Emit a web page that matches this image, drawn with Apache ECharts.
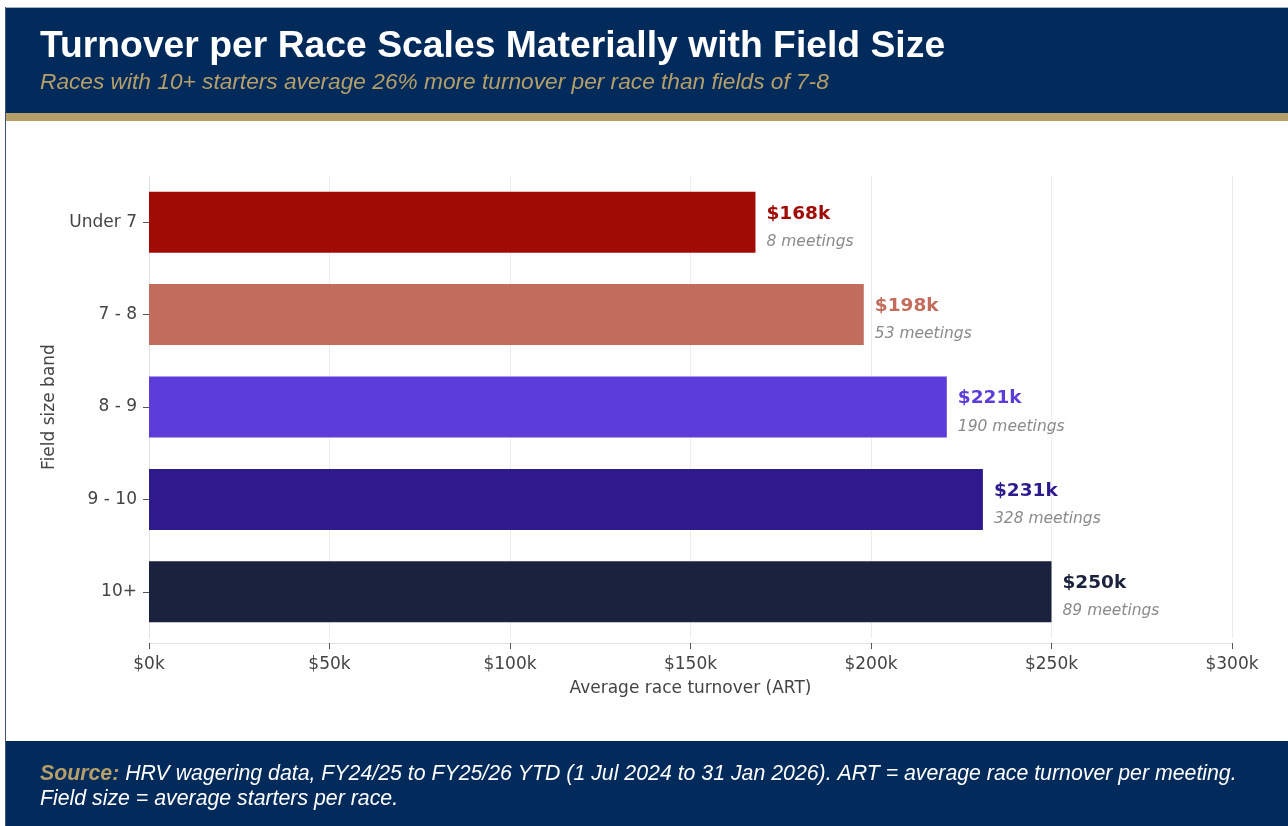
<!DOCTYPE html>
<html>
<head>
<meta charset="utf-8">
<script src="https://cdn.jsdelivr.net/npm/echarts@6/dist/echarts.min.js"></script>
<style>
  html, body { margin: 0; padding: 0; background: #ffffff; }
  #chart { width: 1288px; height: 826px; }
</style>
</head>
<body>
<div id="chart"></div>
<script>
// Field size bands, top to bottom
const bands = ['Under 7', '7 - 8', '8 - 9', '9 - 10', '10+'];
// Average race turnover per meeting, $k
const artValues = [168, 198, 221, 231, 250];
// Number of meetings in each band
const meetings = [8, 53, 190, 328, 89];
// Bar colours per band
const bandColors = ['#a10b05', '#c26c5d', '#5c3dd9', '#2e1a8c', '#1b223d'];
// Axis ticks ($k)
const xTicks = [0, 50, 100, 150, 200, 250, 300];

const NAVY = '#022a5b';
const GOLD = '#b59f69';
const FONT = "'DejaVu Sans', sans-serif";
const HEAD_FONT = "'Liberation Sans', Arial, sans-serif";

const chart = echarts.init(document.getElementById('chart'), null, { renderer: 'canvas' });

const seriesData = artValues.map((v, i) => ({
  value: v,
  itemStyle: { color: bandColors[i] },
  label: {
    rich: {
      v: { fontFamily: FONT, fontWeight: 'bold', fontSize: 18.5, color: bandColors[i], lineHeight: 29 },
      m: { fontFamily: FONT, fontStyle: 'italic', fontSize: 15.5, color: '#8a8a8a', lineHeight: 27 }
    }
  }
}));

chart.setOption({
  animation: false,
  backgroundColor: '#ffffff',
  grid: { left: 149, right: 56, top: 176, bottom: 188, containLabel: false },
  xAxis: {
    type: 'value',
    min: xTicks[0], max: xTicks[xTicks.length - 1], interval: xTicks[1] - xTicks[0],
    offset: 5,
    name: 'Average race turnover (ART)',
    nameLocation: 'middle',
    nameGap: 37,
    nameTextStyle: { fontFamily: FONT, fontSize: 17, color: '#444444' },
    axisLine: { show: true, lineStyle: { color: '#e2e2e2', width: 1 } },
    axisTick: { show: true, length: 6, lineStyle: { color: '#555555' } },
    axisLabel: {
      fontFamily: FONT, fontSize: 17, color: '#444444', margin: 13,
      formatter: v => '$' + v + 'k'
    },
    splitLine: { show: true, lineStyle: { color: '#ececec', width: 1 } }
  },
  yAxis: {
    type: 'category',
    data: bands,
    inverse: true,
    name: 'Field size band',
    nameLocation: 'middle',
    nameRotate: 90,
    nameGap: 81,
    nameTextStyle: { fontFamily: FONT, fontSize: 17, color: '#444444' },
    axisLine: { show: true, lineStyle: { color: '#e2e2e2', width: 1 } },
    axisTick: { show: true, length: 6, alignWithLabel: true, lineStyle: { color: '#555555' } },
    axisLabel: { fontFamily: FONT, fontSize: 17, color: '#444444', margin: 12 },
    splitLine: { show: false }
  },
  series: [{
    type: 'bar',
    data: seriesData,
    barWidth: 61,
    label: {
      show: true,
      position: 'right',
      distance: 11,
      align: 'left',
      offset: [0, 5],
      formatter: p => '{v|$' + artValues[p.dataIndex] + 'k}\n{m|' + meetings[p.dataIndex] + ' meetings}'
    }
  }],
  graphic: [
    // outer frame lines
    { type: 'rect', z: 0, silent: true, shape: { x: 5, y: 7, width: 1283, height: 1 }, style: { fill: '#a7b0bf' } },
    { type: 'rect', z: 0, silent: true, shape: { x: 5, y: 7, width: 1, height: 819 }, style: { fill: '#3f5577' } },
    // header band
    { type: 'rect', z: 1, silent: true, shape: { x: 6, y: 8, width: 1282, height: 105 }, style: { fill: NAVY } },
    { type: 'rect', z: 1, silent: true, shape: { x: 6, y: 113, width: 1282, height: 8 }, style: { fill: GOLD } },
    {
      type: 'text', z: 2, silent: true, left: 40, top: 28,
      style: { text: 'Turnover per Race Scales Materially with Field Size', fill: '#ffffff',
        font: "bold 37.3px " + HEAD_FONT }
    },
    {
      type: 'text', z: 2, silent: true, left: 40, top: 71,
      style: { text: 'Races with 10+ starters average 26% more turnover per race than fields of 7-8', fill: GOLD,
        font: "italic 22.7px " + HEAD_FONT }
    },
    // footer band
    { type: 'rect', z: 1, silent: true, shape: { x: 6, y: 741, width: 1282, height: 85 }, style: { fill: NAVY } },
    {
      type: 'text', z: 2, silent: true, left: 40, top: 764,
      style: {
        text: '{s|Source: }{t|HRV wagering data, FY24/25 to FY25/26 YTD (1 Jul 2024 to 31 Jan 2026). ART = average race turnover per meeting.}\n{t|Field size = average starters per race.}',
        rich: {
          s: { font: "bold italic 21.3px " + HEAD_FONT, fill: GOLD, lineHeight: 25 },
          t: { font: "italic 21.3px " + HEAD_FONT, fill: '#ffffff', lineHeight: 25 }
        }
      }
    }
  ]
});
</script>
</body>
</html>
